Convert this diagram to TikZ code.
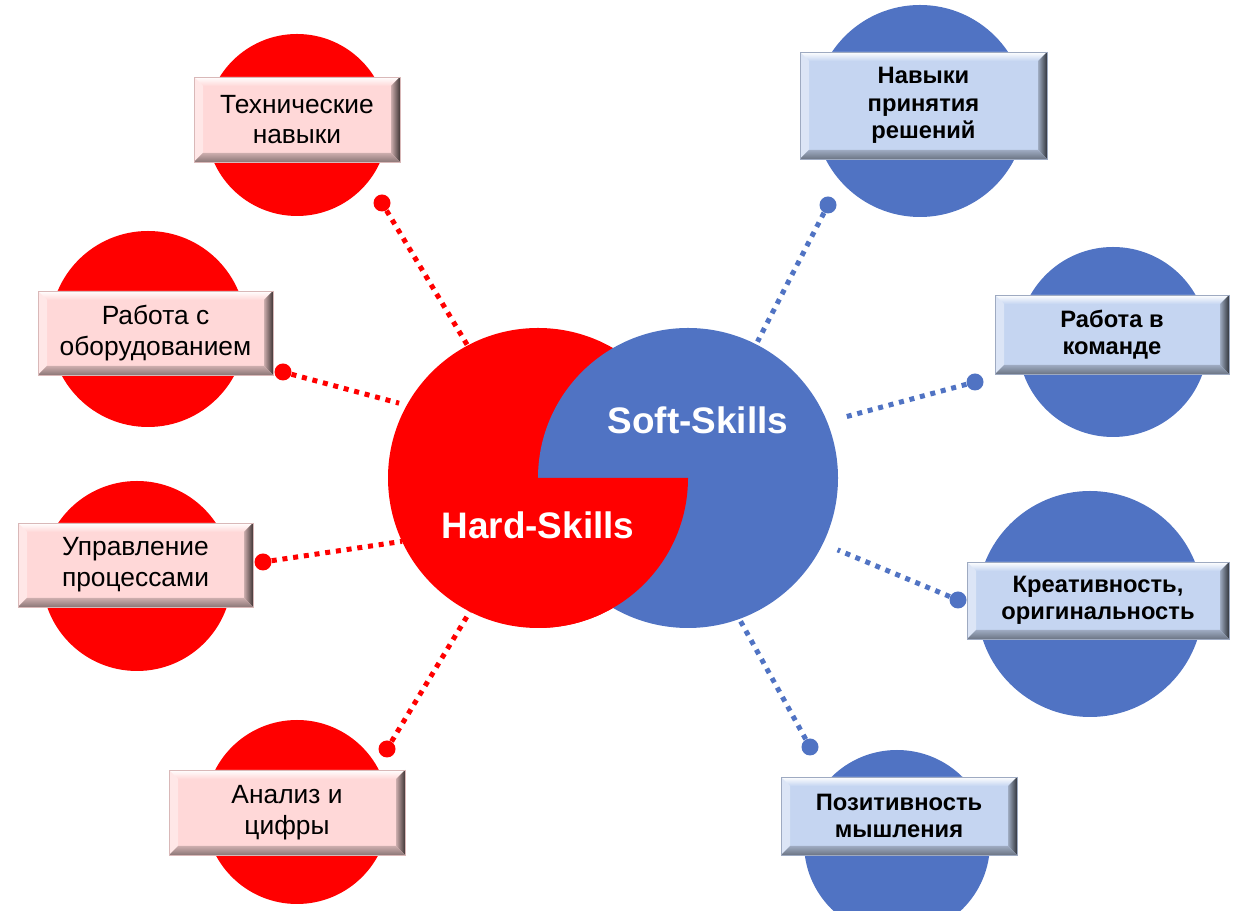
\documentclass[tikz,border=0pt]{standalone}
\usepackage{fontspec}
\setmainfont{Liberation Sans}

\definecolor{hardred}{RGB}{255,0,0}
\definecolor{softblue}{RGB}{80,115,195}
\definecolor{hardfill}{RGB}{255,216,216}
\definecolor{softfill}{RGB}{197,213,241}
\newcommand{\bevelw}{0.18cm}

\tikzset{
  bevel/.style={path picture={
    \path (path picture bounding box.north west) coordinate (pnw)
          (path picture bounding box.north east) coordinate (pne)
          (path picture bounding box.south west) coordinate (psw)
          (path picture bounding box.south east) coordinate (pse);
    \shade[top color=white, bottom color=#1] (pnw) -- (pne) -- ([shift={(-\bevelw,-\bevelw)}]pne) -- ([shift={(\bevelw,-\bevelw)}]pnw) -- cycle;
    \fill[white,opacity=.4] (pnw) -- ([shift={(\bevelw,-\bevelw)}]pnw) -- ([shift={(\bevelw,\bevelw)}]psw) -- (psw) -- cycle;
    \shade[left color=#1!80!black, right color=#1!25!black] (pne) -- (pse) -- ([shift={(-\bevelw,\bevelw)}]pse) -- ([shift={(-\bevelw,-\bevelw)}]pne) -- cycle;
    \shade[top color=#1!80!black, bottom color=#1!55!black] (psw) -- (pse) -- ([shift={(-\bevelw,\bevelw)}]pse) -- ([shift={(\bevelw,\bevelw)}]psw) -- cycle;
  }},
  hardcirc/.style={circle, fill=hardred, inner sep=0pt, outer sep=0pt},
  softcirc/.style={circle, fill=softblue, inner sep=0pt, outer sep=0pt},
  hardbox/.style={rectangle, fill=hardfill, bevel=hardfill, draw=hardfill!85!black, line width=0.4pt,
    align=center, inner sep=0pt, font=\fontsize{15}{17.5}\selectfont},
  softbox/.style={rectangle, fill=softfill, bevel=softfill, draw=softfill!80!black, line width=0.4pt,
    align=center, inner sep=0pt, font=\bfseries\fontsize{13.5}{15.6}\selectfont},
  hdot/.style={circle, fill=hardred, inner sep=0pt, minimum size=0.34cm},
  sdot/.style={circle, fill=softblue, inner sep=0pt, minimum size=0.34cm},
  hardline/.style={draw=hardred, line width=2.85pt, dash pattern=on 2.85pt off 3.3pt},
  softline/.style={draw=softblue, line width=2.85pt, dash pattern=on 2.85pt off 3.3pt},
  skilltext/.style={text=white, font=\bfseries\fontsize{21}{25}\selectfont}
}

\begin{document}
\begin{tikzpicture}
\useasboundingbox (0,0) rectangle (24.8,18.22);

% outer circles
\node[hardcirc, minimum size=3.64cm] (tech) at (5.94,15.72) {};
\node[hardcirc, minimum size=3.92cm] (equip) at (2.96,11.64) {};
\node[hardcirc, minimum size=3.80cm] (proc) at (2.74,6.70) {};
\node[hardcirc, minimum size=3.68cm] (anal) at (5.94,1.98) {};
\node[softcirc, minimum size=4.24cm] (decide) at (18.40,16.00) {};
\node[softcirc, minimum size=3.80cm] (team) at (22.26,11.38) {};
\node[softcirc, minimum size=4.52cm] (creat) at (21.80,6.14) {};
\node[softcirc, minimum size=3.72cm] (posit) at (17.94,1.36) {};

% centre
\node[hardcirc, minimum size=6cm] (hard) at (10.76,8.66) {};
\node[softcirc, minimum size=6cm] (soft) at (13.76,8.66) {};
\fill[hardred] (hard.center) -- (hard.east) arc[start angle=0, end angle=-90, radius=3cm] -- cycle;
\node[skilltext] (hardlabel) at (10.76,7.72) {Hard-Skills};
\node[skilltext] (softlabel) at (13.96,9.82) {Soft-Skills};

% dots and dotted links
\node[hdot] (techdot) at (7.64,14.16) {};
\node[hdot] (equipdot) at (5.66,10.78) {};
\node[hdot] (procdot) at (5.26,6.98) {};
\node[hdot] (analdot) at (7.74,3.24) {};
\node[sdot] (decidedot) at (16.56,14.12) {};
\node[sdot] (teamdot) at (19.50,10.58) {};
\node[sdot] (creatdot) at (19.16,6.22) {};
\node[sdot] (positdot) at (16.20,3.28) {};
\draw[hardline] (techdot) -- (hard.118);
\draw[hardline, shorten >=0.16cm] (equipdot) -- (hard.151);
\draw[hardline] (procdot) -- (hard.205);
\draw[hardline] (analdot) -- (hard.243);
\draw[softline, shorten >=0.06cm] (decidedot) -- (soft.63);
\draw[softline, shorten >=0.32cm] (teamdot) -- (soft.22);
\draw[softline, shorten >=0.32cm] (creatdot) -- (soft.-26);
\draw[softline] (positdot) -- (soft.-70);

% labels
\node[hardbox, minimum width=4.12cm, minimum height=1.70cm] (techbox) at (5.94,15.83) {Технические\\навыки};
\node[hardbox, minimum width=4.70cm, minimum height=1.68cm] (equipbox) at (3.11,11.56) {Работа с\\оборудованием};
\node[hardbox, minimum width=4.70cm, minimum height=1.68cm] (procbox) at (2.71,6.92) {Управление\\процессами};
\node[hardbox, minimum width=4.72cm, minimum height=1.70cm] (analbox) at (5.74,1.97) {Анализ и\\цифры};
\node[softbox, minimum width=4.94cm, minimum height=2.14cm] (decidebox) at (18.47,16.11) {Навыки\\принятия\\решений};
\node[softbox, minimum width=4.68cm, minimum height=1.58cm] (teambox) at (22.24,11.53) {Работа в\\команде};
\node[softbox, minimum width=5.24cm, minimum height=1.54cm] (creatbox) at (21.96,6.21) {Креативность,\\оригинальность};
\node[softbox, minimum width=4.72cm, minimum height=1.56cm] (positbox) at (17.98,1.90) {Позитивность\\мышления};
\end{tikzpicture}
\end{document}
